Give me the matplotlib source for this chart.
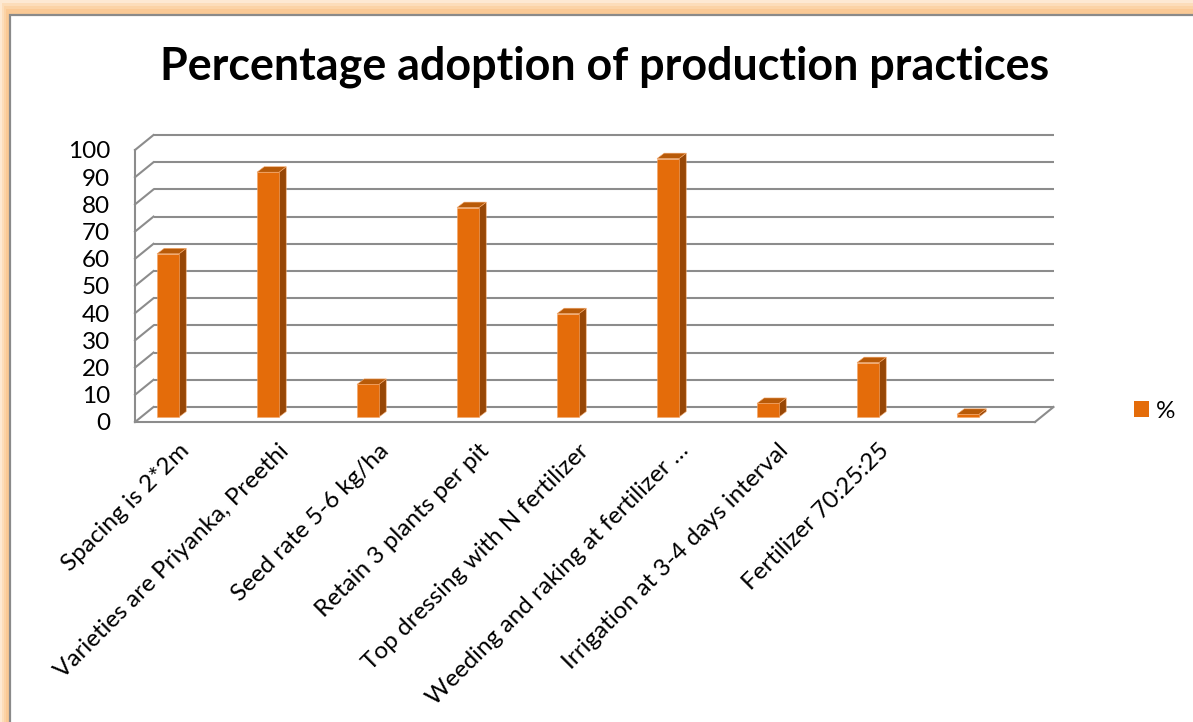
import matplotlib
matplotlib.use("Agg")
import matplotlib.pyplot as plt
from matplotlib.patches import Polygon, Rectangle, Patch
from matplotlib.transforms import ScaledTranslation

# ---- data -------------------------------------------------------------
practices = [
    "Spacing is 2*2m",
    "Varieties are Priyanka, Preethi",
    "Seed rate 5-6 kg/ha",
    "Retain 3 plants per pit",
    "Top dressing with N fertilizer",
    "Weeding and raking at fertilizer \u2026",
    "Irrigation at 3-4 days interval",
    "Fertilizer 70:25:25",
    "",
]
adoption = [60, 90, 12, 77, 38, 95, 5, 20, 1]
y_ticks = [0, 10, 20, 30, 40, 50, 60, 70, 80, 90, 100]
series_name = "%"
title = "Percentage adoption of production practices"

# ---- style ------------------------------------------------------------
FONT = "Lato"
LABEL_SIZE = 17.5
FRONT = "#E46C0A"
SIDE = "#974706"
TOP = "#B85A08"
GRID = "#8C8C8C"

W, H = 1193, 722
fig = plt.figure(figsize=(W / 100, H / 100), dpi=100)
fig.patch.set_facecolor("white")

# orange glow frame with a grey inner rule (top and left edges)
glow = ["#FDE9D3", "#FCDDBA", "#FBD3A6", "#FAC995"]
for k, c in enumerate(glow):
    off = 3 * k
    fig.patches.append(Rectangle((off * 0.7, -50), W + 100, H - off + 50,
                                 transform=None, facecolor=c, edgecolor="none",
                                 zorder=-10 + k))
fig.patches.append(Rectangle((10, -50), W + 100, H - 15 + 50,
                             transform=None, facecolor="white",
                             edgecolor="#8A8A8A", linewidth=1.6, zorder=-5))

# ---- axes: front plane of the 3-D box ---------------------------------
scale = 2.72  # pixels per percentage point
ax_left, ax_bottom, ax_top = 135, 422, 135
ax = fig.add_axes([ax_left / W, (H - ax_bottom) / H, 900 / W,
                   (ax_bottom - ax_top) / H])
ax.set_xlim(-0.5, len(adoption) - 0.5)
ax.set_ylim(0, (ax_bottom - ax_top) / scale)
ax.patch.set_alpha(0)
for s in ax.spines.values():
    s.set_visible(False)
ax.set_xticks([])
ax.set_yticks(y_ticks)
ax.set_yticklabels([str(t) for t in y_ticks], fontfamily=FONT,
                   fontsize=LABEL_SIZE)
ax.tick_params(axis="y", length=0, pad=18)

# depth of the box (category units, value units)
wall_dx, wall_dy = 0.185, 15 / scale
n = len(adoption)
x0, x1 = -0.5, n - 0.5

# back-wall gridlines with their left side-wall segments
for t in y_ticks:
    ax.plot([x0 + wall_dx, x1 + wall_dx], [t + wall_dy, t + wall_dy],
            color=GRID, lw=1.5, clip_on=False, zorder=1, solid_capstyle="butt")
    ax.plot([x0, x0 + wall_dx], [t, t + wall_dy], color=GRID, lw=1.5,
            clip_on=False, zorder=1)
# left wall front edge and floor front edge
ax.plot([x0, x0], [0, 100], color=GRID, lw=1.5, clip_on=False, zorder=1)
ax.plot([x0, x1], [0, 0], color=GRID, lw=1.5, clip_on=False, zorder=1)
ax.plot([x1, x1 + wall_dx], [0, wall_dy], color=GRID, lw=1.5,
        clip_on=False, zorder=1)

# ---- 3-D columns ------------------------------------------------------
bar_w = 0.22
bar_off = -0.28          # left edge of front face relative to category centre
base = 5 / scale         # columns stand a little way into the floor
bdx, bdy = 0.072, 2.0    # column depth
edge = dict(edgecolor="#F2A66A", linewidth=0.4, clip_on=False, zorder=3)
for i, v in enumerate(adoption):
    xl = i + bar_off
    xr = xl + bar_w
    y0, y1 = base, base + v
    ax.add_patch(Polygon([(xr, y0), (xr + bdx, y0 + bdy), (xr + bdx, y1 + bdy),
                          (xr, y1)], closed=True, facecolor=SIDE, **edge))
    ax.add_patch(Polygon([(xl, y1), (xr, y1), (xr + bdx, y1 + bdy),
                          (xl + bdx, y1 + bdy)], closed=True, facecolor=TOP, **edge))
    ax.add_patch(Rectangle((xl, y0), bar_w, v, facecolor=FRONT, **edge))

# ---- category labels, rotated 45 degrees -------------------------------
for i, lab in enumerate(practices):
    tr = ax.transData + ScaledTranslation(0.0, -0.18, fig.dpi_scale_trans)
    ax.text(i - 0.07, 0, lab, transform=tr, rotation=45, rotation_mode="anchor",
            ha="right", va="top", fontfamily=FONT, fontsize=LABEL_SIZE,
            color="black", clip_on=False)

# ---- title and legend -------------------------------------------------
fig.text(605 / W, 1 - 67 / H, title, ha="center", va="center",
         fontfamily=FONT, fontweight="bold", fontsize=32.3)

fig.legend(handles=[Patch(facecolor=FRONT, edgecolor="none")],
           labels=[series_name], loc="center left",
           bbox_to_anchor=(1124 / W, 1 - 411 / H), frameon=False,
           prop=dict(family=FONT, size=LABEL_SIZE), handlelength=0.62,
           handleheight=0.62, handletextpad=0.3, borderaxespad=0)

fig.savefig("out.png", dpi=100)
